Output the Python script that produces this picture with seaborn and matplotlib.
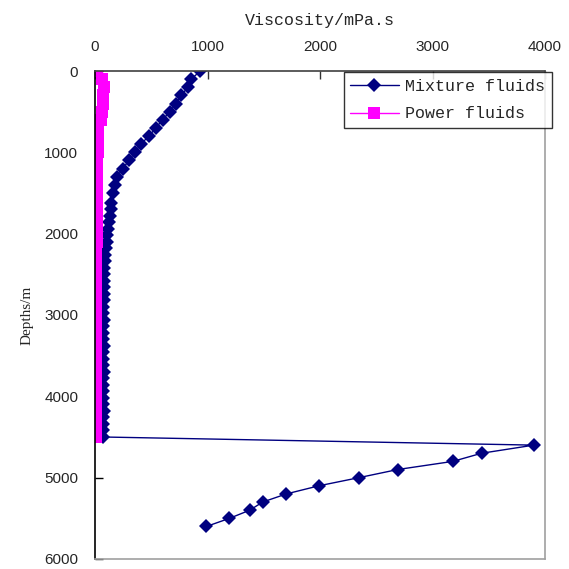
import pandas as pd
import seaborn as sns
import matplotlib.pyplot as plt

# depths (m) shared by both series in the well section
depth_upper = [0, 100, 200, 300, 400, 500, 600, 700, 800, 900, 1000, 1100, 1200, 1300, 1400, 1500,
               1620, 1700, 1780, 1860, 1940, 2020, 2100, 2180, 2260, 2340, 2420, 2500, 2580, 2660,
               2740, 2820, 2900, 2980, 3060, 3140, 3220, 3300, 3380, 3460, 3540, 3620, 3700, 3780,
               3860, 3940, 4020, 4100, 4180, 4260, 4340, 4420, 4500]
depth_lower = [4600, 4700, 4800, 4900, 5000, 5100, 5200, 5300, 5400, 5500, 5600]

# viscosity mPa.s
mix_upper = [935, 855, 830, 760, 720, 665, 600, 540, 480, 405, 355, 300, 248, 195, 175, 160,
             145, 138, 130, 123, 116, 110, 104, 98, 93, 88, 84, 80, 78, 77,
             76, 76, 75, 75, 76, 75, 74, 75, 76, 75, 74, 75, 76, 75,
             74, 75, 74, 75, 76, 75, 74, 75, 70]
mix_lower = [3900, 3435, 3180, 2690, 2345, 1990, 1700, 1490, 1375, 1195, 990]

power = [15, 60, 78, 75, 70, 65, 55, 30, 28, 27, 25, 22, 20, 20, 20, 20,
         20, 20, 20, 20, 20, 20, 20, 5, 5, 5, 5, 5, 5, 5,
         5, 5, 5, 5, 5, 5, 5, 5, 5, 5, 5, 5, 5, 5,
         5, 5, 5, 5, 5, 5, 5, 5, 5]

df_mix = pd.DataFrame({"Depth": depth_upper + depth_lower, "Viscosity": mix_upper + mix_lower})
df_pow = pd.DataFrame({"Depth": depth_upper, "Viscosity": power})

sns.set_style("white")
plt.rcParams['font.family'] = ['Liberation Sans', 'DejaVu Sans']

fig = plt.figure(figsize=(5.69, 5.69), dpi=100)
ax = fig.add_axes([0.167, 0.0176, 0.791, 0.8576])

sns.lineplot(data=df_mix, x="Viscosity", y="Depth", sort=False, estimator=None,
             color="#000080", marker="D", markersize=7, markeredgewidth=0,
             linewidth=1, label="Mixture fluids", ax=ax)
sns.lineplot(data=df_pow, x="Viscosity", y="Depth", sort=False, estimator=None,
             color="#FF00FF", marker="s", markersize=8, markeredgewidth=0,
             linewidth=1, label="Power fluids", ax=ax)

ax.set_xlim(0, 4000)
ax.set_ylim(6000, 0)
ax.set_xticks([0, 1000, 2000, 3000, 4000])
ax.set_yticks([0, 1000, 2000, 3000, 4000, 5000, 6000])
ax.xaxis.tick_top()
ax.xaxis.set_label_position('top')
ax.tick_params(axis='x', direction='in', length=6, width=1, pad=12, labelsize=11,
               color='#333333', bottom=False, top=True)
ax.tick_params(axis='y', direction='in', length=6, width=1, pad=12, labelsize=11,
               color='black', left=True)

ax.set_xlabel("Viscosity/mPa.s", family=['Liberation Mono'], fontsize=12, labelpad=11)
ax.set_ylabel("Depths/m", family=['Liberation Serif'], fontsize=11, labelpad=8)

for side, col in [('left', 'black'), ('top', '#404040'), ('right', '#a0a0a0'), ('bottom', '#a0a0a0')]:
    ax.spines[side].set_visible(True)
    ax.spines[side].set_color(col)
    ax.spines[side].set_linewidth(1.2)

leg = ax.legend(loc='upper right', bbox_to_anchor=(0.970, 0.873), bbox_transform=fig.transFigure,
                prop={'family': 'Liberation Mono', 'size': 12}, frameon=True, fancybox=False,
                handlelength=2.9, borderpad=0.4, labelspacing=0.75, handletextpad=0.4,
                borderaxespad=0)
leg.get_frame().set_edgecolor('black')
leg.get_frame().set_linewidth(1)

plt.savefig("out.png", dpi=100)
